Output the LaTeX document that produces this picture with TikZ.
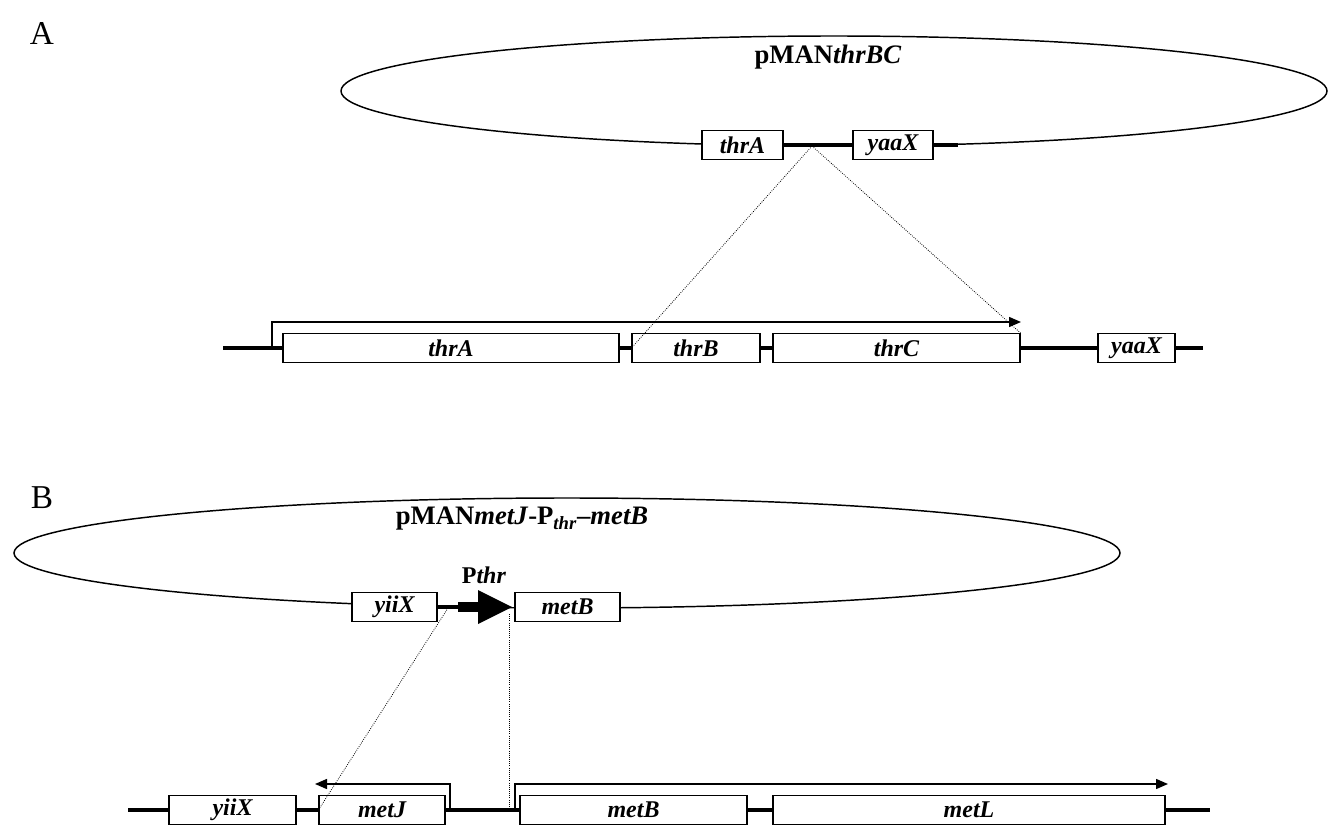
\documentclass[tikz,border=0pt]{standalone}
\usepackage{fontspec}
\setmainfont{Liberation Serif}
\usetikzlibrary{arrows.meta,positioning}

% gene box: name, left x, right x, y, label
\newcommand{\genebox}[5]{%
  \node[gene,minimum width={(#3-#2)*0.75pt}] (#1) at ({(#2+#3)/2},#4) {#5};}

\begin{document}
\begin{tikzpicture}[x=0.75pt,y=-0.75pt,
    gene/.style={draw,fill=white,line width=0.9pt,inner sep=0pt,
      minimum height=21.5pt,font=\fontsize{18}{20}\selectfont\bfseries\itshape},
    dna/.style={line width=3pt},
    plasmid/.style={line width=1.1pt},
    tx/.style={line width=1.1pt,-{Triangle[length=9pt,width=7.5pt]}},
    cross/.style={densely dotted,line width=0.6pt},
    panel/.style={font=\fontsize{25}{28}\selectfont},
    title/.style={font=\fontsize{20}{24}\selectfont\bfseries},
  ]
  \useasboundingbox (0,0) rectangle (1328,827);

  % ---- panel A ----
  \node[panel] (labA) at (42,34) {A};
  \draw[plasmid] (834,91) ellipse [x radius=493, y radius=55];
  \node[title] (pA) at (828,57) {pMAN\textit{thrBC}};
  \genebox{pthrA}{702}{783}{145}{thrA}
  \genebox{pyaaX}{853}{933}{145}{yaaX}
  \coordinate (insA) at (812,146);
  \coordinate (pendA) at (958,145);
  \draw[dna] (pthrA.east) -- (pyaaX.west);
  \draw[dna] (pyaaX.east) -- (pendA);

  \coordinate (lA) at (223,348);
  \coordinate (rA) at (1203,348);
  \genebox{thrA}{283}{619}{348}{thrA}
  \genebox{thrB}{632}{760}{348}{thrB}
  \genebox{thrC}{773}{1020}{348}{thrC}
  \genebox{yaaX}{1098}{1175}{348}{yaaX}
  \draw[dna] (lA) -- (thrA.west) (thrA.east) -- (thrB.west)
    (thrB.east) -- (thrC.west) (thrC.east) -- (yaaX.west) (yaaX.east) -- (rA);
  \coordinate (tsA) at (272,348);
  \coordinate (teA) at (1021,322);
  \draw[tx] (tsA) |- (teA);
  \draw[cross] (insA) -- (thrB.west);
  \draw[cross] (insA) -- (thrC.north east);

  % ---- panel B ----
  \node[panel] (labB) at (42,498) {B};
  \draw[plasmid] (567,553) ellipse [x radius=553, y radius=55];
  \node[title] (pB) at (522,519)
    {pMAN\textit{metJ}-P\textsubscript{\textit{thr}}--\textit{metB}};
  \genebox{pyiiX}{352}{437}{607}{yiiX}
  \genebox{pmetB}{515}{620}{607}{metB}
  \coordinate (prom) at (458,607);
  \draw[dna] (pyiiX.east) -- (prom);
  \fill (prom) ++(0,-5) rectangle (480,612);
  \fill (478,590) -- (512,607) -- (478,624) -- cycle;
  \node[font=\fontsize{18}{20}\selectfont\bfseries] (Pthr) at (484,575) {P\textit{thr}};
  \coordinate (insB1) at (448,608);
  \coordinate (insB2) at (509,614);

  \coordinate (lB) at (128,810);
  \coordinate (rB) at (1210,810);
  \genebox{yiiX}{169}{296}{810}{yiiX}
  \genebox{metJ}{319}{445}{810}{metJ}
  \genebox{metB}{520}{747}{810}{metB}
  \genebox{metL}{773}{1165}{810}{metL}
  \coordinate (jB) at (509,810);
  \draw[dna] (lB) -- (yiiX.west) (yiiX.east) -- (metJ.west)
    (metJ.east) -- (metB.west) (metB.east) -- (metL.west) (metL.east) -- (rB);
  \coordinate (tsJ) at (450,810);
  \coordinate (teJ) at (315,784);
  \coordinate (tsB) at (515,810);
  \coordinate (teB) at (1168,784);
  \draw[tx] (tsJ) |- (teJ);
  \draw[tx] (tsB) |- (teB);
  \draw[cross] (insB1) -- (metJ.west);
  \draw[cross] (insB2) -- (jB);
\end{tikzpicture}
\end{document}
